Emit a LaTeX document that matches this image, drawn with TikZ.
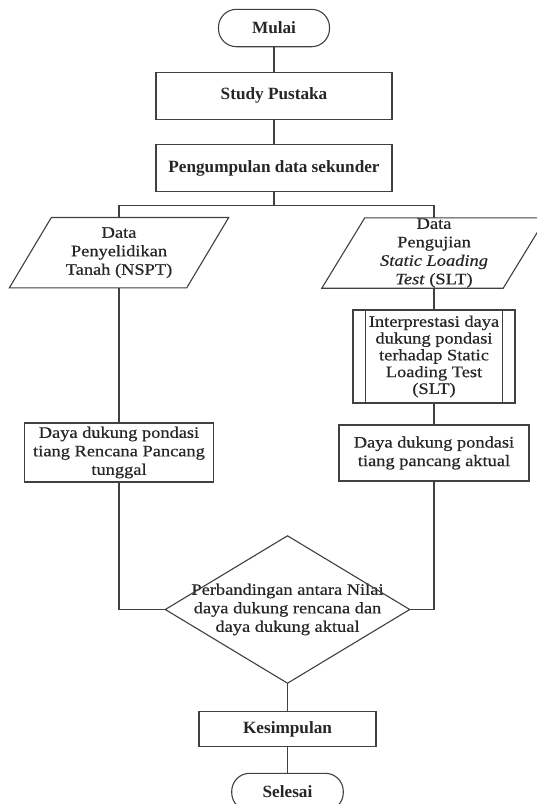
\documentclass[tikz,border=0pt]{standalone}
\usepackage{fontspec}
\setmainfont{Liberation Serif}
\newfontfamily\rgfont{Liberation Serif}[FakeStretch=1.15,FakeBold=0.5]
\usetikzlibrary{calc}
\begin{document}
\begin{tikzpicture}[x=1pt,y=-1pt,
  ln/.style={draw=black!75, line width=1.1pt},
  boldtxt/.style={font=\fontsize{17.2}{19}\selectfont\bfseries, text=black!85, align=center},
  regtxt/.style={font=\fontsize{16}{18.5}\selectfont\rgfont, text=black!85, align=center, inner sep=0pt},
  box/.style={ln, rectangle, inner sep=0pt, align=center},
  term/.style={box, rounded corners=18pt},
]
\useasboundingbox[fill=white] (0,0) rectangle (537,804);
% top chain
\node[term, boldtxt, minimum width=111pt, minimum height=37.4pt] (mulai) at (274,28) {Mulai};
\node[box, boldtxt, minimum width=236pt, minimum height=47pt] (study) at (274,95.7) {Study Pustaka};
\node[box, boldtxt, minimum width=236pt, minimum height=47pt] (kumpul) at (274,168.3) {Pengumpulan data sekunder};
\coordinate (br) at (274,205.7);
% left input
\node[regtxt, minimum width=177pt, minimum height=70pt] (pl) at (119,252.7) {Data\\Penyelidikan\\Tanah (NSPT)};
\draw[ln] ($(pl.south west)+(-21,0)$) -- ($(pl.south east)+(-21,0)$) -- ($(pl.north east)+(21,0)$) -- ($(pl.north west)+(21,0)$) -- cycle;
% right input
\node[regtxt, minimum width=181pt, minimum height=70pt] (pr) at (434,253) {Data\\Pengujian\\\textit{Static Loading}\\\textit{Test} (SLT)};
\draw[ln] ($(pr.south west)+(-21.5,0)$) -- ($(pr.south east)+(-21.5,0)$) -- ($(pr.north east)+(21.5,0)$) -- ($(pr.north west)+(21.5,0)$) -- cycle;
% subroutine
\node[box, regtxt, font=\fontsize{16}{16.8}\selectfont\rgfont, minimum width=162pt, minimum height=93pt] (sub) at (434,356.5) {Interprestasi daya\\dukung pondasi\\terhadap Static\\Loading Test\\(SLT)};
\draw[ln] ($(sub.north west)+(13,0)$) -- ($(sub.south west)+(13,0)$);
\draw[ln] ($(sub.north east)+(-13,0)$) -- ($(sub.south east)+(-13,0)$);
% process boxes
\node[box, regtxt, minimum width=190pt, minimum height=56pt] (rbox) at (434,453) {Daya dukung pondasi\\tiang pancang aktual};
\node[box, regtxt, minimum width=189pt, minimum height=59pt] (lbox) at (119,452.5) {Daya dukung pondasi\\tiang Rencana Pancang\\tunggal};
% decision
\node[regtxt, minimum width=244pt, minimum height=147pt] (dec) at (287.5,609.5) {Perbandingan antara Nilai\\daya dukung rencana dan\\daya dukung aktual};
\draw[ln] (dec.north) -- (dec.east) -- (dec.south) -- (dec.west) -- cycle;
% end
\node[box, boldtxt, minimum width=177pt, minimum height=35pt] (kes) at (287.5,729) {Kesimpulan};
\node[term, boldtxt, minimum width=111.6pt, minimum height=37.4pt] (sel) at (287.5,792) {Selesai};
% connectors
\draw[ln] (mulai.south) -- (study.north);
\draw[ln] (study.south) -- (kumpul.north);
\draw[ln] (kumpul.south) -- (br);
\draw[ln] (pl.north) |- (br) -| (pr.north);
\draw[ln] (pl.south) -- (lbox.north);
\draw[ln] (pr.south) -- (sub.north);
\draw[ln] (sub.south) -- (rbox.north);
\draw[ln] (lbox.south) |- (dec.west);
\draw[ln] (rbox.south) |- (dec.east);
\draw[ln] (dec.south) -- (kes.north);
\draw[ln] (kes.south) -- (sel.north);
\end{tikzpicture}
\end{document}
